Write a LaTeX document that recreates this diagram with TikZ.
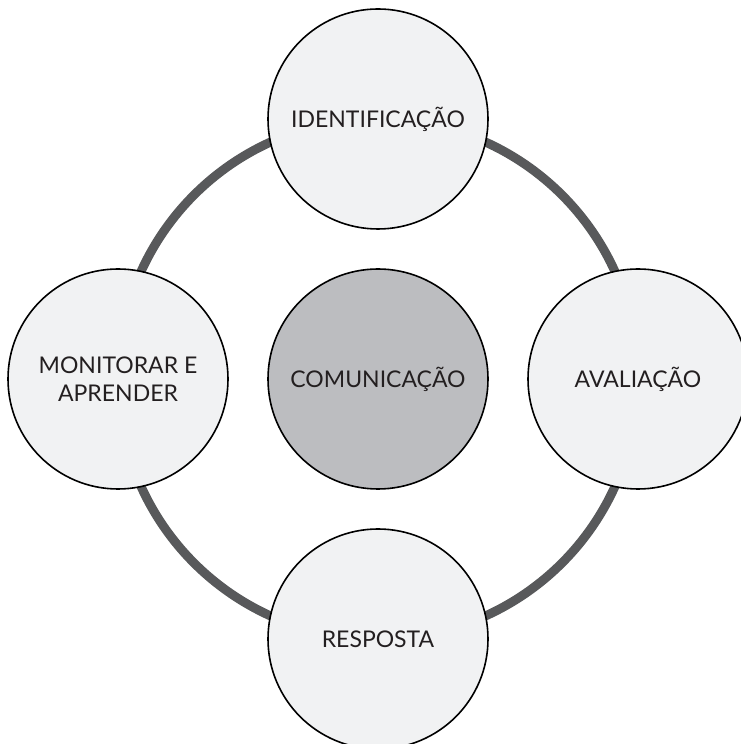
\documentclass[tikz,border=0pt]{standalone}
\usepackage{fontspec}
\setmainfont{Lato}
\usetikzlibrary{backgrounds}
\definecolor{ringgray}{HTML}{58595B}
\definecolor{lightfill}{HTML}{F1F2F3}
\definecolor{midfill}{HTML}{BCBDC0}
\definecolor{txt}{HTML}{231F20}
\begin{document}
\begin{tikzpicture}[x=1pt,y=1pt,
  stage/.style={circle, draw=black, line width=1.6pt, fill=lightfill,
    minimum size=220pt, inner sep=0pt, align=center, text=txt,
    font=\fontsize{23}{28}\selectfont},
  hub/.style={stage, fill=midfill},
  ring/.style={draw=ringgray, line width=9pt}]
\useasboundingbox (0,0) rectangle (740,744);
\node[hub] (com) at (378,365) {COMUNICAÇÃO};
\node[stage] (ide) at (378,625) {IDENTIFICAÇÃO};
\node[stage] (ava) at (638,365) {AVALIAÇÃO};
\node[stage] (res) at (378,105) {RESPOSTA};
\node[stage] (mon) at (118,365) {MONITORAR E\\APRENDER};
\begin{scope}[on background layer]
  \draw[ring] (ide.center) to[out=0,in=90] (ava.center);
  \draw[ring] (ava.center) to[out=-90,in=0] (res.center);
  \draw[ring] (res.center) to[out=180,in=-90] (mon.center);
  \draw[ring] (mon.center) to[out=90,in=180] (ide.center);
\end{scope}
\end{tikzpicture}
\end{document}
